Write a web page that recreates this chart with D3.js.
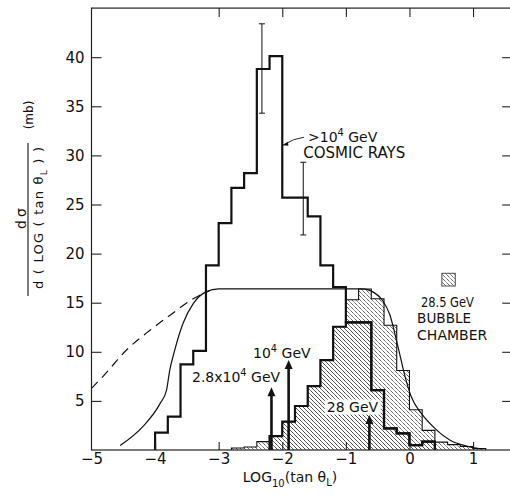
<!DOCTYPE html>
<html>
<head>
<meta charset="utf-8">
<script src="https://cdn.jsdelivr.net/npm/d3@7"></script>
<style>
body{margin:0;background:#fff;}
svg text{font-family:"DejaVu Sans",sans-serif;fill:#111;}
</style>
</head>
<body>
<div id="chart"></div>
<script>
// all histograms use 0.2 wide bins in log10(tan theta_L); *Start = left edge of first bin
let binWidth = 0.2;

// >10^4 GeV cosmic rays (thick outline)
let cosmicStart = -4.0;
let cosmicValues = [1.76, 3.39, 8.72, 10.1, 18.8, 23.1, 26.7, 28.2, 38.8, 40.1, 25.7,
                    25.7, 23.8, 18.8, 16.6, 13.0, 13.0, 6.1, 2.2, 1.7, 0.5, 0.85];

// thick stepped outline round the shaded region
let thickStart = -2.2;
let thickValues = [1.42, 2.88, 4.48, 6.5, 9.16, 12.55, 13.0, 13.0, 6.1, 2.2, 1.7, 0.5, 0.85];

// 28.5 GeV bubble chamber (thin outline, shaded)
let bubbleStart = -2.8;
let bubbleValues = [0.2, 0.3, 0.85, 1.42, 2.88, 4.48, 6.5, 9.16, 12.55, 15.3,
                    16.4, 15.4, 12.7, 8.1, 4.1, 2.0, 0.8, 0.55, 0.35, 0.15];

// smooth curve
let curveX = [-4.55, -4.19, -3.92, -3.82, -3.77, -3.69, -3.56, -3.4, -3.2, -3.0,
              -0.75, -0.55, -0.42, -0.31, -0.18, -0.07, 0.03, 0.19, 0.4, 0.64, 0.9, 1.15];
let curveY = [0.45, 2.4, 4.75, 6.1, 8.1, 10.2, 12.9, 14.9, 16.1, 16.4,
              16.4, 16.0, 15.2, 13.8, 10.5, 7.5, 5.4, 3.7, 2.2, 1.0, 0.4, 0.1];

// dashed extension
let dashX = [-5.0, -4.8, -4.45, -4.08, -3.77, -3.4, -3.15];
let dashY = [6.28, 7.63, 10.18, 12.2, 13.7, 15.4, 16.2];

// error bars on the cosmic histogram
let errX = [-2.32, -1.67];
let errLo = [34.3, 21.9];
let errHi = [43.4, 29.3];

// arrows: 2.8x10^4 GeV, 10^4 GeV, 28 GeV
let arrowX = [-2.17, -1.9, -0.63];
let arrowTop = [6.4, 9.16, 3.56];

let xTicks = [-5, -4, -3, -2, -1, 0, 1];
let xTopTicks = [-3, -2, -1, 0, 1];
let yTicks = [5, 10, 15, 20, 25, 30, 35, 40];

let svg = d3.select("#chart").append("svg")
    .attr("width", 510)
    .attr("height", 500);

let x = d3.scaleLinear().domain([-5, 1.6]).range([91.5, 511.2]);
let y = d3.scaleLinear().domain([0, 45]).range([450, 8.1]);

// hatch pattern "\\\\"
let defs = svg.append("defs");
defs.append("pattern")
    .attr("id", "hatch")
    .attr("patternUnits", "userSpaceOnUse")
    .attr("width", 4).attr("height", 4)
  .append("path")
    .attr("d", "M-1,-1 l2,2 M0,0 l4,4 M3,3 l2,2")
    .attr("stroke", "#444")
    .attr("stroke-width", 0.55);

let stepPoints = function(start, values) {
    let pts = [[start, 0]];
    values.forEach(function(v, i) {
        pts.push([start + i * binWidth, v]);
        pts.push([start + (i + 1) * binWidth, v]);
    });
    pts.push([start + values.length * binWidth, 0]);
    return pts;
};

let line = d3.line().x(function(d) { return x(d[0]); }).y(function(d) { return y(d[1]); });

// shaded areas
svg.append("path")
    .attr("d", line(stepPoints(bubbleStart, bubbleValues)) + "Z")
    .attr("fill", "url(#hatch)");
svg.append("path")
    .attr("d", line(stepPoints(thickStart, thickValues)) + "Z")
    .attr("fill", "url(#hatch)");

// legend swatch
let legX = [0.51, 0.72], legY = [18.0, 16.7];
svg.append("rect")
    .attr("x", x(legX[0])).attr("y", y(legY[0]))
    .attr("width", x(legX[1]) - x(legX[0]))
    .attr("height", y(legY[1]) - y(legY[0]))
    .attr("fill", "url(#hatch)")
    .attr("stroke", "#222").attr("stroke-width", 0.8);

// white box behind "28 GeV"
let lab28 = {x: -1.3, y: 3.92};
svg.append("rect")
    .attr("x", x(lab28.x) - 2).attr("y", y(lab28.y) - 12)
    .attr("width", 56).attr("height", 15)
    .attr("fill", "white");

// bubble chamber outline
svg.append("path")
    .attr("d", line(stepPoints(bubbleStart, bubbleValues)))
    .attr("fill", "none").attr("stroke", "#111").attr("stroke-width", 1.1);

// smooth curve
let pts = curveX.map(function(v, i) { return [v, curveY[i]]; });
svg.append("path")
    .attr("d", line.curve(d3.curveMonotoneX)(pts))
    .attr("fill", "none").attr("stroke", "#111").attr("stroke-width", 1.2);

let dpts = dashX.map(function(v, i) { return [v, dashY[i]]; });
svg.append("path")
    .attr("d", line.curve(d3.curveMonotoneX)(dpts))
    .attr("fill", "none").attr("stroke", "#111").attr("stroke-width", 1.2)
    .attr("stroke-dasharray", "9,6");
line.curve(d3.curveLinear);

// thick outlines
svg.append("path")
    .attr("d", line(stepPoints(thickStart, thickValues)))
    .attr("fill", "none").attr("stroke", "#111").attr("stroke-width", 2.2);
svg.append("path")
    .attr("d", line(stepPoints(cosmicStart, cosmicValues)))
    .attr("fill", "none").attr("stroke", "#111").attr("stroke-width", 2.2);

// error bars
errX.forEach(function(v, i) {
    svg.append("line")
        .attr("x1", x(v)).attr("x2", x(v))
        .attr("y1", y(errLo[i])).attr("y2", y(errHi[i]))
        .attr("stroke", "#111").attr("stroke-width", 1);
    [errLo[i], errHi[i]].forEach(function(e) {
        svg.append("line")
            .attr("x1", x(v) - 3).attr("x2", x(v) + 3)
            .attr("y1", y(e)).attr("y2", y(e))
            .attr("stroke", "#111").attr("stroke-width", 1);
    });
});

// arrows
arrowX.forEach(function(v, i) {
    let ax = x(v), top = y(arrowTop[i]);
    svg.append("line")
        .attr("x1", ax).attr("x2", ax)
        .attr("y1", y(0)).attr("y2", top + 6)
        .attr("stroke", "#111").attr("stroke-width", 2.6);
    svg.append("path")
        .attr("d", "M" + ax + "," + top + " l-4,9 l8,0 Z")
        .attr("fill", "#111");
});

// frame and axes
svg.append("rect")
    .attr("x", x(-5)).attr("y", y(45))
    .attr("width", x(1.6) - x(-5)).attr("height", y(0) - y(45))
    .attr("fill", "none").attr("stroke", "#222").attr("stroke-width", 1.2);

let gx = svg.append("g").attr("transform", "translate(0," + y(0) + ")")
    .call(d3.axisBottom(x).tickValues(xTicks).tickFormat(d3.format("d"))
        .tickSizeInner(-8).tickSizeOuter(0).tickPadding(3));
let gxt = svg.append("g").attr("transform", "translate(0," + y(45) + ")")
    .call(d3.axisTop(x).tickValues(xTopTicks).tickSizeInner(-9).tickSizeOuter(0).tickFormat(""));
let gy = svg.append("g").attr("transform", "translate(" + x(-5) + ",0)")
    .call(d3.axisLeft(y).tickValues(yTicks).tickSizeInner(-10).tickSizeOuter(0).tickPadding(7));
let gyr = svg.append("g").attr("transform", "translate(" + x(1.6) + ",0)")
    .call(d3.axisRight(y).tickValues(yTicks).tickSizeInner(-9).tickSizeOuter(0).tickFormat(""));

[gx, gxt, gy, gyr].forEach(function(g) {
    g.select(".domain").remove();
    g.selectAll("line").attr("stroke", "#222").attr("stroke-width", 1.1);
    g.selectAll("text").attr("font-size", 15).attr("font-family", "DejaVu Sans").attr("fill", "#111");
});
gx.selectAll(".tick").filter(function(d) { return d === -5; }).select("line").remove();

// x axis title
let xt = svg.append("text").attr("x", 290).attr("y", 482)
    .attr("text-anchor", "middle").attr("font-size", 14);
xt.append("tspan").text("LOG");
xt.append("tspan").attr("dy", 5).attr("font-size", 10).text("10");
xt.append("tspan").attr("dy", -5).text("(tan θ");
xt.append("tspan").attr("dy", 4).attr("font-size", 10).text("L");
xt.append("tspan").attr("dy", -4).text(")");

// y axis title (fraction)
let yl = svg.append("g").attr("transform", "rotate(-90)");
yl.append("text").attr("x", -217).attr("y", 25.5)
    .attr("text-anchor", "middle").attr("font-size", 14).attr("letter-spacing", 3).text("dσ");
yl.append("line").attr("x1", -296).attr("x2", -143).attr("y1", 28).attr("y2", 28)
    .attr("stroke", "#111").attr("stroke-width", 1.1);
let den = yl.append("text").attr("x", -289).attr("y", 43)
    .attr("font-size", 13).attr("textLength", 142).attr("lengthAdjust", "spacing");
den.append("tspan").text("d ( LOG ( tan θ");
den.append("tspan").attr("dy", 4).attr("font-size", 9).text("L");
den.append("tspan").attr("dy", -4).text(" ) )");
yl.append("text").attr("x", -115).attr("y", 33)
    .attr("text-anchor", "middle").attr("font-size", 12).text("(mb)");

// annotations
let supText = function(px, py, before, sup, after, size) {
    let t = svg.append("text").attr("x", px).attr("y", py).attr("font-size", size);
    t.append("tspan").text(before);
    t.append("tspan").attr("dy", -6).attr("font-size", size * 0.7).text(sup);
    t.append("tspan").attr("dy", 6).text(after);
    return t;
};

let labCosmic = {x: -1.595, y: 31.35};
supText(x(labCosmic.x), y(labCosmic.y), ">10", "4", " GeV", 14);
svg.append("text").attr("x", x(-1.67)).attr("y", y(29.7)).attr("font-size", 15).text("COSMIC RAYS");

// leader to cosmic histogram
let leadFrom = [-1.66, 31.85], leadTo = [-1.99, 31.04];
svg.append("path")
    .attr("d", "M" + x(leadFrom[0]) + "," + y(leadFrom[1]) +
               " Q" + (x(leadFrom[0]) - 10) + "," + (y(leadFrom[1]) + 1) + " " +
               x(leadTo[0]) + "," + y(leadTo[1]))
    .attr("fill", "none").attr("stroke", "#111").attr("stroke-width", 0.9);
svg.append("path")
    .attr("d", "M" + x(leadTo[0]) + "," + y(leadTo[1]) + " l5,-3.5 l0.5,4 Z")
    .attr("fill", "#111");

supText(x(-2.46), y(9.36), "10", "4", " GeV", 14);
supText(x(-3.42), y(6.92), "2.8x10", "4", " GeV", 14);
svg.append("text").attr("x", x(lab28.x)).attr("y", y(lab28.y)).attr("font-size", 14).text("28 GeV");

svg.append("text").attr("x", x(0.18)).attr("y", y(14.6)).attr("font-size", 14)
    .attr("textLength", 53).attr("lengthAdjust", "spacingAndGlyphs").text("28.5 GeV");
svg.append("text").attr("x", x(0.12)).attr("y", y(12.9)).attr("font-size", 14)
    .attr("textLength", 54).attr("lengthAdjust", "spacingAndGlyphs").text("BUBBLE");
svg.append("text").attr("x", x(0.12)).attr("y", y(11.2)).attr("font-size", 14).text("CHAMBER");
</script>
</body>
</html>
